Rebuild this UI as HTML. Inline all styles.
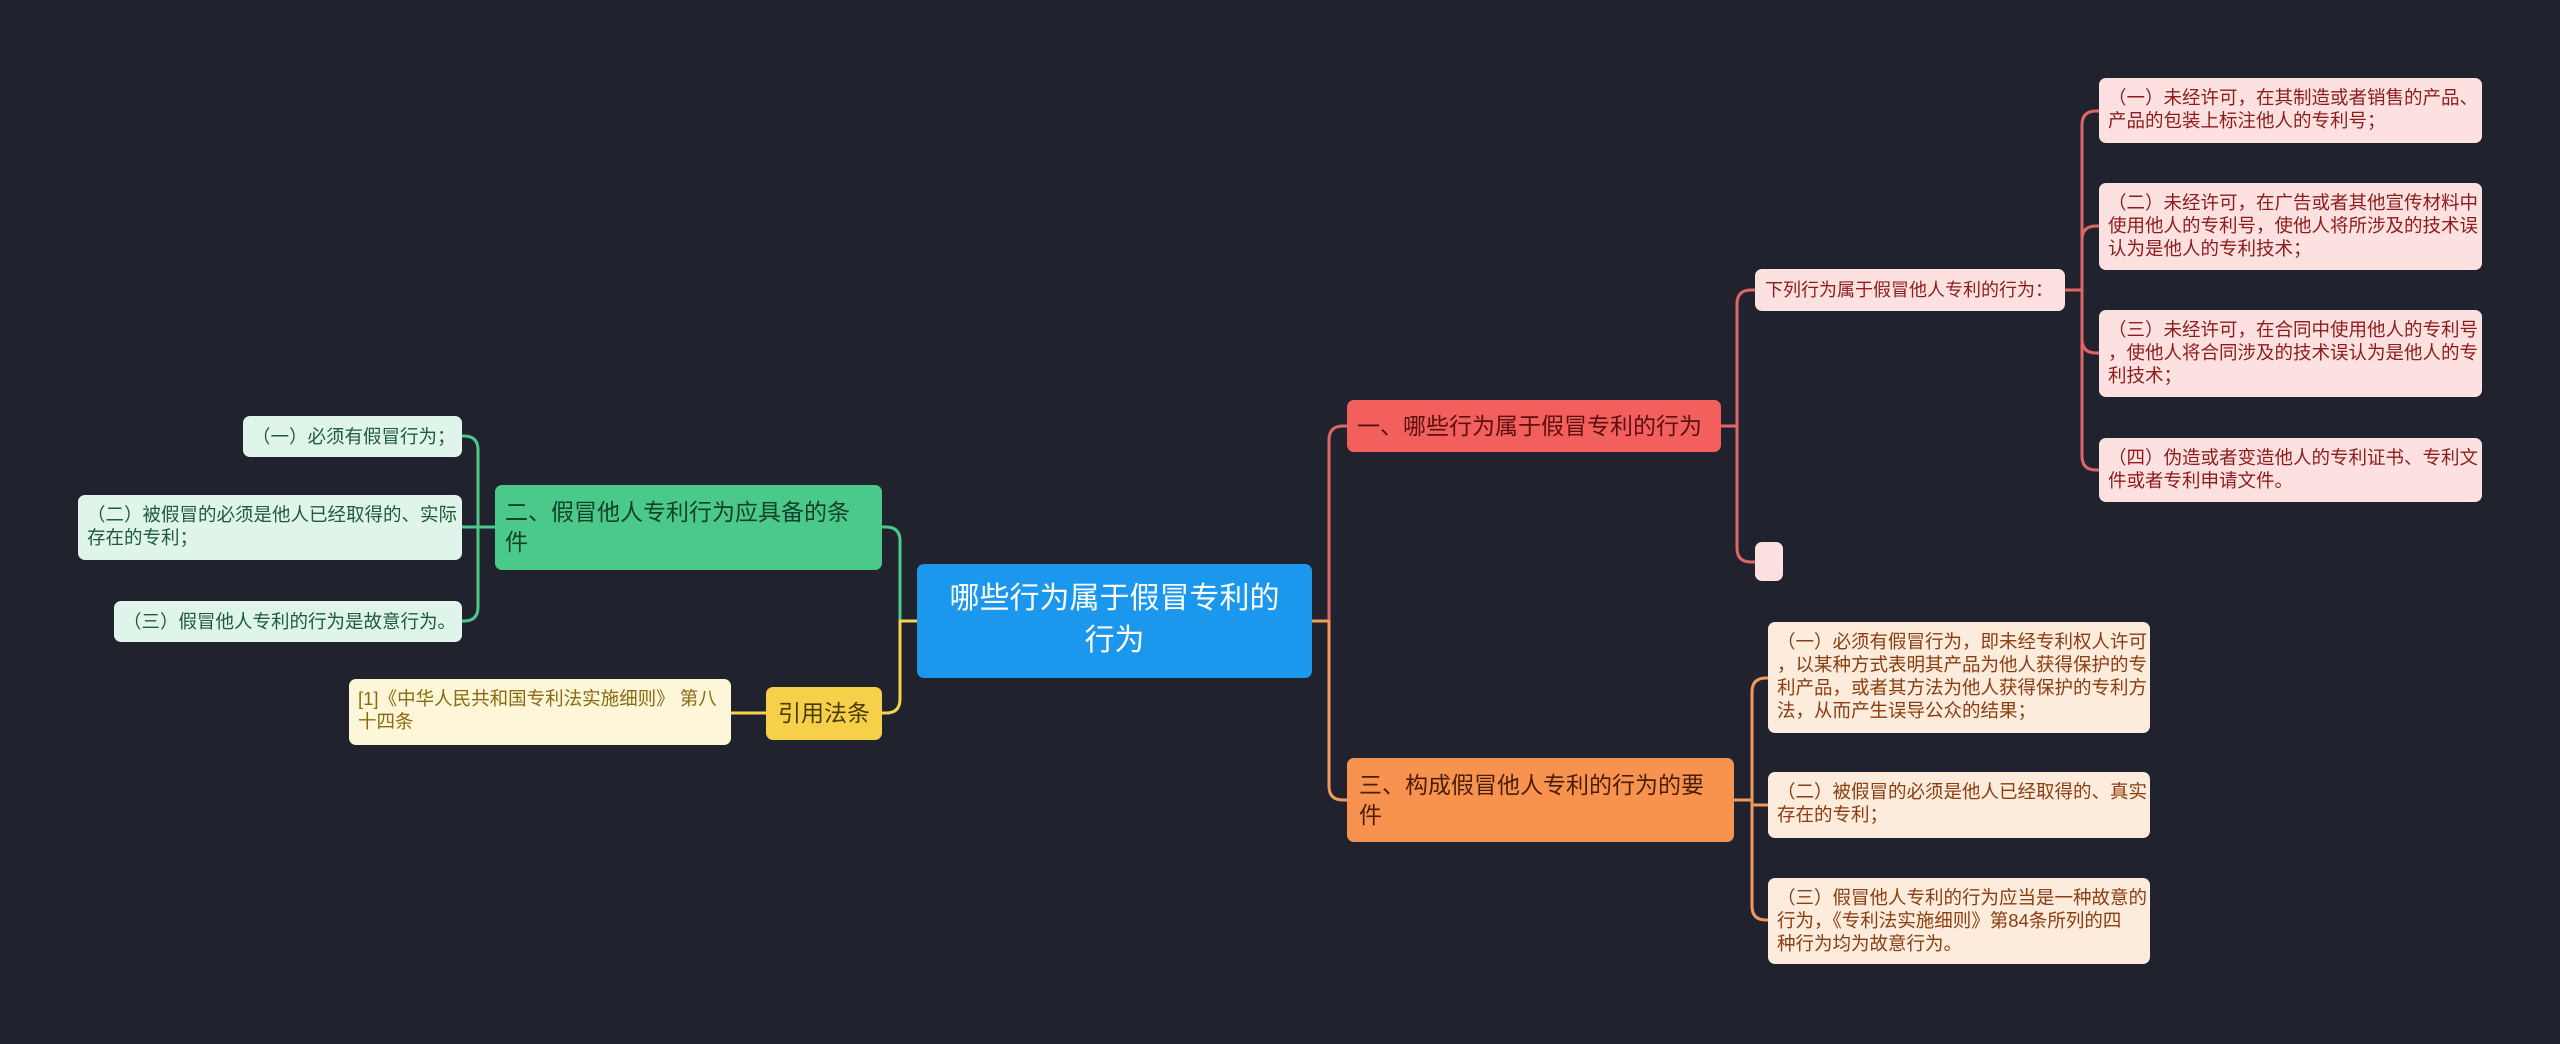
<!DOCTYPE html>
<html><head><meta charset="utf-8">
<style>
html,body{margin:0;padding:0;background:#20232e;width:2560px;height:1044px;overflow:hidden;}
body{position:relative;font-family:"Liberation Sans","Noto Sans CJK SC",sans-serif;}
.n{position:absolute;box-sizing:border-box;border-radius:7px;white-space:nowrap;overflow:hidden;}
.leaf{font-size:18.5px;line-height:23px;padding:8px 9px;}
.r{background:#fde1e1;color:#8c1c1c;}
.o{background:#fdebdc;color:#8a3d10;}
.g{background:#dff5ea;color:#1f5a3d;}
.y{background:#fdf6d8;color:#8a6a10;}
svg{position:absolute;left:0;top:0;}
</style></head><body>
<svg width="2560" height="1044" fill="none" stroke-width="3">
  <!-- center right -->
  <path d="M1311 621 H1329 V440 Q1329 426 1343 426 H1347" stroke="#e06565"/>
  <path d="M1311 621 H1329 V786 Q1329 800 1343 800 H1347" stroke="#f29a5c"/>
  <!-- center left -->
  <path d="M918 621 H900 V541 Q900 527 886 527 H882" stroke="#4ac98a"/>
  <path d="M918 621 H900 V699 Q900 713 886 713 H882" stroke="#f5d34d"/>
  <!-- 一 -->
  <path d="M1721 426 H1737 V304 Q1737 290 1751 290 H1755" stroke="#e06565"/>
  <path d="M1721 426 H1737 V548 Q1737 562 1751 562 H1755" stroke="#e06565"/>
  <!-- 下列 -->
  <path d="M2065 290 H2082 V125 Q2082 111 2096 111 H2100" stroke="#e06565"/>
  <path d="M2065 290 H2082 V240 Q2082 226 2096 226 H2100" stroke="#e06565"/>
  <path d="M2065 290 H2082 V339 Q2082 353 2096 353 H2100" stroke="#e06565"/>
  <path d="M2065 290 H2082 V456 Q2082 470 2096 470 H2100" stroke="#e06565"/>
  <!-- 三 -->
  <path d="M1734 800 H1752 V692 Q1752 678 1766 678 H1768" stroke="#f29a5c"/>
  <path d="M1734 800 H1752 V805 H1768" stroke="#f29a5c"/>
  <path d="M1734 800 H1752 V906 Q1752 920 1766 920 H1768" stroke="#f29a5c"/>
  <!-- 二 -->
  <path d="M495 527 H478 V450 Q478 436 464 436 H462" stroke="#4ac98a"/>
  <path d="M495 527 H462" stroke="#4ac98a"/>
  <path d="M495 527 H478 V607 Q478 621 464 621 H462" stroke="#4ac98a"/>
  <!-- 引用 -->
  <path d="M766 713 H731" stroke="#f5d34d"/>
</svg>

<div class="n" style="left:917px;top:564px;width:395px;height:114px;background:#1b97ee;color:#fff;font-size:30px;line-height:42px;text-align:center;padding-top:14px;">哪些行为属于假冒专利的<br>行为</div>

<div class="n" style="left:1347px;top:400px;width:374px;height:52px;background:#f25f5c;color:#5a1010;font-size:23px;line-height:52px;padding-left:10px;">一、哪些行为属于假冒专利的行为</div>
<div class="n r" style="left:1755px;top:269px;width:310px;height:42px;font-size:18px;line-height:42px;padding-left:10px;">下列行为属于假冒他人专利的行为：</div>
<div class="n r" style="left:1755px;top:542px;width:28px;height:39px;"></div>

<div class="n leaf r" style="left:2099px;top:78px;width:383px;height:65px;">（一）未经许可，在其制造或者销售的产品、<br>产品的包装上标注他人的专利号；</div>
<div class="n leaf r" style="left:2099px;top:183px;width:383px;height:87px;">（二）未经许可，在广告或者其他宣传材料中<br>使用他人的专利号，使他人将所涉及的技术误<br>认为是他人的专利技术；</div>
<div class="n leaf r" style="left:2099px;top:310px;width:383px;height:87px;">（三）未经许可，在合同中使用他人的专利号<br>，使他人将合同涉及的技术误认为是他人的专<br>利技术；</div>
<div class="n leaf r" style="left:2099px;top:438px;width:383px;height:64px;">（四）伪造或者变造他人的专利证书、专利文<br>件或者专利申请文件。</div>

<div class="n" style="left:1347px;top:758px;width:387px;height:84px;background:#f7924f;color:#4a1e05;font-size:23px;line-height:30px;padding:12px 0 0 12px;">三、构成假冒他人专利的行为的要<br>件</div>
<div class="n leaf o" style="left:1768px;top:622px;width:382px;height:111px;">（一）必须有假冒行为，即未经专利权人许可<br>，以某种方式表明其产品为他人获得保护的专<br>利产品，或者其方法为他人获得保护的专利方<br>法，从而产生误导公众的结果；</div>
<div class="n leaf o" style="left:1768px;top:772px;width:382px;height:66px;">（二）被假冒的必须是他人已经取得的、真实<br>存在的专利；</div>
<div class="n leaf o" style="left:1768px;top:878px;width:382px;height:86px;">（三）假冒他人专利的行为应当是一种故意的<br>行为，《专利法实施细则》第84条所列的四<br>种行为均为故意行为。</div>

<div class="n" style="left:495px;top:485px;width:387px;height:85px;background:#4ac98a;color:#12402a;font-size:23px;line-height:30px;padding:12px 0 0 10px;">二、假冒他人专利行为应具备的条<br>件</div>
<div class="n leaf g" style="left:243px;top:416px;width:219px;height:41px;line-height:25px;">（一）必须有假冒行为；</div>
<div class="n leaf g" style="left:78px;top:495px;width:384px;height:65px;">（二）被假冒的必须是他人已经取得的、实际<br>存在的专利；</div>
<div class="n leaf g" style="left:114px;top:601px;width:348px;height:41px;line-height:25px;">（三）假冒他人专利的行为是故意行为。</div>

<div class="n" style="left:766px;top:687px;width:116px;height:53px;background:#f7d04a;color:#4a3a05;font-size:23px;line-height:53px;text-align:center;">引用法条</div>
<div class="n leaf y" style="left:349px;top:679px;width:382px;height:66px;">[1]《中华人民共和国专利法实施细则》 第八<br>十四条</div>
</body></html>
